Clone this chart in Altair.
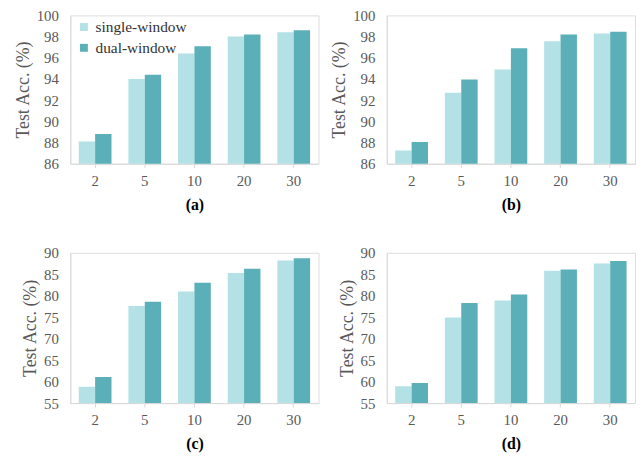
import altair as alt
import pandas as pd

ks = ["2", "5", "10", "20", "30"]
series = ["single-window", "dual-window"]

a_single = [88.1, 94.0, 96.4, 98.0, 98.4]
a_dual = [88.8, 94.4, 97.1, 98.2, 98.6]
b_single = [87.25, 92.7, 94.9, 97.55, 98.3]
b_dual = [88.05, 93.95, 96.9, 98.2, 98.45]
c_single = [58.8, 77.6, 81.0, 85.3, 88.2]
c_dual = [61.1, 78.6, 83.0, 86.3, 88.7]
d_single = [58.9, 74.9, 78.9, 85.8, 87.5]
d_dual = [59.7, 78.3, 80.3, 86.1, 88.1]

colors = ["#b4e1e5", "#5aafb9"]
FONT = "Liberation Serif"
GRAY = "#595959"
FRAME = "#d9d9d9"


def make_df(single, dual):
    rows = []
    for k, s, d in zip(ks, single, dual):
        rows.append({"k": k, "series": series[0], "acc": s})
        rows.append({"k": k, "series": series[1], "acc": d})
    return pd.DataFrame(rows)


def panel(single, dual, label, domain, step, height, show_legend=False):
    df = make_df(single, dual)
    ticks = list(range(domain[0], domain[1] + 1, step))
    if show_legend:
        legend = alt.Legend(
            title=None, orient="none", legendX=6, legendY=4,
            symbolType="square", symbolSize=64, symbolStrokeWidth=0,
            labelFont=FONT, labelFontSize=15.5, labelColor="#333333",
            labelOffset=4, rowPadding=4, padding=0,
        )
    else:
        legend = None
    return alt.Chart(df).mark_bar(clip=True).encode(
        x=alt.X("k:N", sort=ks, scale=alt.Scale(paddingInner=0.34, paddingOuter=0.17),
                axis=alt.Axis(title=label, labelAngle=0, labelFont=FONT, labelFontSize=15,
                              labelColor=GRAY, labelPadding=6, tickSize=4, tickColor=FRAME,
                              domainColor=FRAME, titleFont=FONT, titleFontSize=16,
                              titleFontWeight="bold", titleColor="#000000", titlePadding=8)),
        xOffset=alt.XOffset("series:N", sort=series),
        y=alt.Y("acc:Q", scale=alt.Scale(domain=domain, nice=False, zero=False),
                axis=alt.Axis(title="Test Acc. (%)", values=ticks, grid=False, ticks=False,
                              labelFont=FONT, labelFontSize=15, labelColor=GRAY, labelPadding=12,
                              domainColor=FRAME, titleFont=FONT, titleFontSize=18,
                              titleFontWeight="normal", titleColor=GRAY, titlePadding=4)),
        color=alt.Color("series:N", sort=series,
                        scale=alt.Scale(domain=series, range=colors), legend=legend),
    ).properties(width=251, height=height)


pa = panel(a_single, a_dual, "(a)", [86, 100], 2, 150, show_legend=True)
pb = panel(b_single, b_dual, "(b)", [86, 100], 2, 150)
pc = panel(c_single, c_dual, "(c)", [55, 90], 5, 152)
pd_ = panel(d_single, d_dual, "(d)", [55, 90], 5, 152)

chart = alt.concat(pa, pb, pc, pd_, columns=2, spacing={"row": 90, "column": 69}, bounds="flush").resolve_scale(
    color="independent"
).configure_view(stroke=FRAME, strokeWidth=1).configure(font=FONT).properties(
    padding={"left": 6, "top": -3, "right": 0, "bottom": 0}
)

chart.save("out.html", embed_options={"renderer": "svg", "actions": False})
